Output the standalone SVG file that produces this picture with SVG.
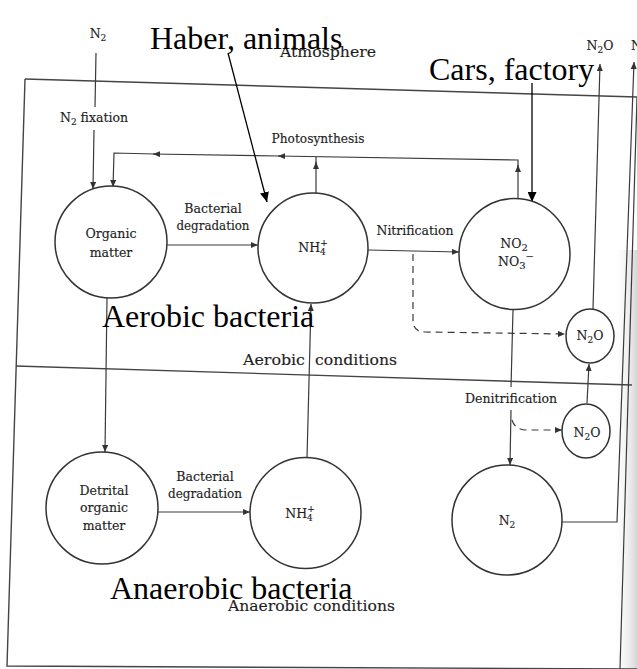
<svg xmlns="http://www.w3.org/2000/svg" width="637" height="669" viewBox="0 0 637 669">
<defs>
<marker id="ah" markerWidth="8" markerHeight="6" refX="7" refY="3" orient="auto" markerUnits="userSpaceOnUse"><path d="M0,0 L7,3 L0,6 z" fill="#333"/></marker>
<marker id="ahb" markerWidth="11" markerHeight="9" refX="10" refY="4.5" orient="auto" markerUnits="userSpaceOnUse"><path d="M0,0 L10,4.5 L0,9 z" fill="#000"/></marker>
<linearGradient id="edge" x1="0" y1="0" x2="1" y2="0"><stop offset="0" stop-color="#fff" stop-opacity="0"/><stop offset="1" stop-color="#bbb"/></linearGradient>
<style>
.ln{stroke:#3a3a3a;stroke-width:1.2;fill:none}
.ds{stroke:#3a3a3a;stroke-width:1.2;fill:none;stroke-dasharray:7 5}
.bd{stroke:#444;stroke-width:1.4;fill:none}
.nd{fill:#fff;stroke:#333;stroke-width:1.5}
.t{font-family:"DejaVu Serif",serif;font-size:12.5px;fill:#1e1e1e;text-anchor:middle;stroke:#1e1e1e;stroke-width:0.15}
.tl{font-family:"DejaVu Serif",serif;font-size:15px;fill:#1e1e1e;stroke:#1e1e1e;stroke-width:0.15}
.big{font-family:"Liberation Serif","Times New Roman",serif;font-size:32px;fill:#000}
.ov{stroke:#000;stroke-width:1.3;fill:none}
</style>
</defs>
<rect width="637" height="669" fill="#fff"/>
<rect x="612" y="250" width="25" height="419" fill="url(#edge)" opacity="0.6"/>

<g id="frame">
<path class="bd" d="M25,79 L637,97"/>
<path class="bd" d="M25,79 L7,666 L637,669"/>
<path class="bd" d="M16,366 L632,385"/>
<path class="ln" d="M637,97 L620,669" stroke="#777"/>
</g>

<g id="labels">
<text class="t" x="98" y="38">N<tspan dy="3" font-size="9">2</tspan></text>
<text class="t" x="94" y="122">N<tspan dy="3" font-size="9">2</tspan><tspan dy="-3"> fixation</tspan></text>
<text class="tl" x="280" y="57" textLength="96" lengthAdjust="spacingAndGlyphs">Atmosphere</text>
<text class="t" x="318" y="143" textLength="93" lengthAdjust="spacingAndGlyphs">Photosynthesis</text>
<text class="t" x="213" y="213">Bacterial</text>
<text class="t" x="213" y="230" textLength="73" lengthAdjust="spacingAndGlyphs">degradation</text>
<text class="t" x="415" y="235" textLength="77" lengthAdjust="spacingAndGlyphs">Nitrification</text>
<text class="tl" x="243" y="365" textLength="62" lengthAdjust="spacingAndGlyphs">Aerobic</text>
<text class="tl" x="315" y="365" textLength="82" lengthAdjust="spacingAndGlyphs">conditions</text>
<text class="t" x="511" y="403" textLength="92" lengthAdjust="spacingAndGlyphs">Denitrification</text>
<text class="t" x="205" y="481">Bacterial</text>
<text class="t" x="205" y="498" textLength="74" lengthAdjust="spacingAndGlyphs">degradation</text>
<text class="tl" x="228" y="611" textLength="167" lengthAdjust="spacingAndGlyphs">Anaerobic conditions</text>
<text class="t" x="600" y="50">N<tspan dy="3" font-size="9">2</tspan><tspan dy="-3">O</tspan></text>
<text class="t" x="631" y="50" style="text-anchor:start">N</text>
</g>

<g id="connectors">
<path class="ln" d="M96,53 L95,107"/>
<path class="ln" d="M94,130 L93,189" marker-end="url(#ah)"/>
<path class="ln" d="M518,199 L518,165" marker-end="url(#ah)"/>
<path class="ln" d="M518,168 L518,160 L278,156" marker-end="url(#ah)"/>
<path class="ln" d="M280,156 L153,154" marker-end="url(#ah)"/>
<path class="ln" d="M155,154 L114,153 L113,187" marker-end="url(#ah)"/>
<path class="ln" d="M316,193 L316,162" marker-end="url(#ah)"/>
<path class="ln" d="M316,165 L316,157"/>
<path class="ln" d="M167,245 L258,245" marker-end="url(#ah)"/>
<path class="ln" d="M368,250 L459,252" marker-end="url(#ah)"/>
<path class="ds" d="M413,254 L413,320 Q413,332 425,332 L565,334" marker-end="url(#ah)"/>
<path class="ln" d="M107,298 L105,452" marker-end="url(#ah)"/>
<path class="ln" d="M158,512 L250,512" marker-end="url(#ah)"/>
<path class="ln" d="M307,458 L311,304" marker-end="url(#ah)"/>
<path class="ln" d="M513,310 L511,387"/>
<path class="ln" d="M511,410 L510,465" marker-end="url(#ah)"/>
<path class="ds" d="M512,420 Q515,430 527,430 L562,430" marker-end="url(#ah)"/>
<path class="ln" d="M587,403 L589,364" marker-end="url(#ah)"/>
<path class="ln" d="M593,309 L600,64" marker-end="url(#ah)"/>
<path class="ln" d="M562,522 L617,522 L634,62" marker-end="url(#ah)"/>
<path class="ov" d="M228,53 L267,202" marker-end="url(#ahb)"/>
<path class="ov" d="M532,83 L532,202" marker-end="url(#ahb)"/>
</g>

<g id="organic-matter">
<circle class="nd" cx="111" cy="242" r="56"/>
<text class="t" x="111" y="238" textLength="51" lengthAdjust="spacingAndGlyphs">Organic</text>
<text class="t" x="111" y="257">matter</text>
</g>
<g id="nh4-aerobic">
<circle class="nd" cx="313" cy="248" r="55"/>
<text class="t" x="313" y="252">NH<tspan dy="3" font-size="9">4</tspan><tspan dx="-5.5" dy="-9" font-size="9">+</tspan></text>
</g>
<g id="no2-no3">
<circle class="nd" cx="514.5" cy="254" r="55.5"/>
<text class="t" x="514" y="248">NO<tspan dy="3" font-size="10">2</tspan></text>
<text class="t" x="516" y="266">NO<tspan dy="3" font-size="10">3</tspan><tspan dy="-9" font-size="10">−</tspan></text>
</g>
<g id="n2o-upper">
<ellipse class="nd" cx="590" cy="336" rx="24" ry="27"/>
<text class="t" x="590" y="340">N<tspan dy="3" font-size="9">2</tspan><tspan dy="-3">O</tspan></text>
</g>
<g id="n2o-lower">
<ellipse class="nd" cx="586" cy="431" rx="24" ry="27"/>
<text class="t" x="587" y="437">N<tspan dy="3" font-size="9">2</tspan><tspan dy="-3">O</tspan></text>
</g>
<g id="detrital">
<circle class="nd" cx="102" cy="508" r="56"/>
<text class="t" x="104" y="495">Detrital</text>
<text class="t" x="104" y="512">organic</text>
<text class="t" x="104" y="530">matter</text>
</g>
<g id="nh4-anaerobic">
<circle class="nd" cx="305.5" cy="513" r="55.5"/>
<text class="t" x="300" y="518">NH<tspan dy="3" font-size="9">4</tspan><tspan dx="-5.5" dy="-9" font-size="9">+</tspan></text>
</g>
<g id="n2-bottom">
<circle class="nd" cx="507" cy="520" r="55"/>
<text class="t" x="507" y="525">N<tspan dy="3" font-size="9">2</tspan></text>
</g>

<g id="overlay-labels">
<text class="big" x="150" y="49">Haber, animals</text>
<text class="big" x="429" y="80">Cars, factory</text>
<text class="big" x="102" y="327">Aerobic bacteria</text>
<text class="big" x="110" y="599">Anaerobic bacteria</text>
</g>
</svg>
